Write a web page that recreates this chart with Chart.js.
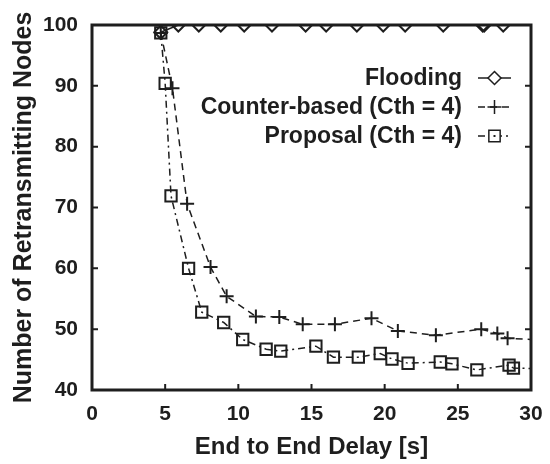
<!DOCTYPE html>
<html>
<head>
<meta charset="utf-8">
<script src="https://cdn.jsdelivr.net/npm/chart.js@4"></script>
<style>
  html, body { margin: 0; padding: 0; background: #fff; }
  #wrap { width: 550px; height: 464px; }
</style>
</head>
<body>
<div id="wrap"><canvas id="delayChart" width="550" height="464"></canvas></div>
<script>
const floodX = [4.7, 5.9, 7.3, 8.8, 10.4, 12.3, 14.6, 16.0, 18.1, 19.9, 21.4, 24.0, 26.7, 26.8, 28.1];
const floodY = [98.8, 100, 100, 100, 100, 100, 100, 100, 100, 100, 100, 100, 100, 100, 100];

const counterX = [4.7, 5.5, 6.5, 8.1, 9.2, 11.2, 12.8, 14.4, 16.6, 19.1, 20.9, 23.5, 26.6, 27.7, 28.4, 31];
const counterY = [98.7, 89.6, 70.6, 60.2, 55.4, 52.1, 52.0, 50.8, 50.8, 51.8, 49.7, 49.0, 50.0, 49.3, 48.5, 48.2];

const proposalX = [4.7, 5.0, 5.4, 6.6, 7.5, 9.0, 10.3, 11.9, 12.9, 15.3, 16.5, 18.2, 19.7, 20.5, 21.6, 23.8, 24.6, 26.3, 28.5, 28.8, 31];
const proposalY = [98.7, 90.4, 71.9, 60.0, 52.8, 51.1, 48.3, 46.7, 46.4, 47.2, 45.4, 45.4, 46.0, 45.1, 44.4, 44.6, 44.3, 43.3, 44.1, 43.6, 43.5];

const xTicks = [0, 5, 10, 15, 20, 25, 30];
const yTicks = [40, 50, 60, 70, 80, 90, 100];

const seriesNames = ["Flooding", "Counter-based (Cth = 4)", "Proposal (Cth = 4)"];

const ink = "#1e1e1e";
const labelFont = "'Liberation Sans', Arial, sans-serif";

function toPoints(xs, ys) {
  return xs.map((x, i) => ({ x: x, y: ys[i] }));
}

// box round the plot with inward ticks
const framePlugin = {
  id: "frame",
  beforeDatasetsDraw(chart) {
    const { ctx, chartArea: a, scales } = chart;
    ctx.save();
    ctx.strokeStyle = ink;
    ctx.lineWidth = 3;
    ctx.strokeRect(a.left, a.top, a.right - a.left, a.bottom - a.top);
    ctx.lineWidth = 2;
    ctx.beginPath();
    xTicks.forEach((v) => {
      const px = scales.x.getPixelForValue(v);
      ctx.moveTo(px, a.bottom);
      ctx.lineTo(px, a.bottom - 6);
    });
    yTicks.forEach((v) => {
      const py = scales.y.getPixelForValue(v);
      ctx.moveTo(a.left, py);
      ctx.lineTo(a.left + 6, py);
      ctx.moveTo(a.right, py);
      ctx.lineTo(a.right - 6, py);
    });
    ctx.stroke();
    ctx.restore();
  },
};

// legend with the text on the left of the line sample
const legendPlugin = {
  id: "sideLegend",
  afterDraw(chart) {
    const { ctx } = chart;
    const textRight = 462;
    const lineStart = 478;
    const lineEnd = 511;
    const baselines = [85, 114, 143];
    ctx.save();
    ctx.font = "bold 23px " + labelFont;
    ctx.textAlign = "right";
    ctx.textBaseline = "alphabetic";
    chart.data.datasets.forEach((ds, i) => {
      const y = baselines[i] - 7;
      ctx.fillStyle = ink;
      ctx.fillText(ds.label, textRight, baselines[i]);
      ctx.strokeStyle = ink;
      ctx.lineWidth = 1.5;
      ctx.setLineDash(ds.borderDash || []);
      ctx.beginPath();
      ctx.moveTo(lineStart, y);
      ctx.lineTo(lineEnd, y);
      ctx.stroke();
      ctx.setLineDash([]);
      ctx.fillStyle = "#fff";
      Chart.helpers.drawPoint(ctx, {
        pointStyle: ds.pointStyle,
        radius: ds.pointRadius,
        borderWidth: ds.pointBorderWidth,
        rotation: 0,
      }, (lineStart + lineEnd) / 2, y);
      if (ds.pointStyle === "rect") {
        ctx.fillStyle = ink;
        ctx.fillRect((lineStart + lineEnd) / 2 - 1, y - 1, 2, 2);
      }
    });
    ctx.restore();
  },
};

const ctx = document.getElementById("delayChart").getContext("2d");

new Chart(ctx, {
  type: "line",
  data: {
    datasets: [
      {
        label: seriesNames[0],
        data: toPoints(floodX, floodY),
        borderColor: ink,
        borderWidth: 1.5,
        pointStyle: "rectRot",
        pointRadius: 6.5,
        pointBorderWidth: 2,
        pointBackgroundColor: "rgba(255,255,255,0)",
        pointBorderColor: ink,
      },
      {
        label: seriesNames[1],
        data: toPoints(counterX, counterY),
        borderColor: ink,
        borderWidth: 1.5,
        borderDash: [7, 5],
        pointStyle: "cross",
        pointRadius: 7,
        pointBorderWidth: 2,
        pointBorderColor: ink,
      },
      {
        label: seriesNames[2],
        data: toPoints(proposalX, proposalY),
        borderColor: ink,
        borderWidth: 1.5,
        borderDash: [7, 4, 2, 4],
        pointStyle: "rect",
        pointRadius: 8,
        pointBorderWidth: 2,
        pointBackgroundColor: "rgba(255,255,255,0)",
        pointBorderColor: ink,
      },
    ],
  },
  options: {
    responsive: false,
    animation: false,
    devicePixelRatio: 1,
    layout: {
      padding: { top: 25, right: 19, left: 0, bottom: 0 },
    },
    scales: {
      x: {
        type: "linear",
        min: 0,
        max: 30,
        afterBuildTicks: (scale) => {
          scale.ticks = xTicks.map((v) => ({ value: v }));
        },
        afterFit: (scale) => {
          scale.height = 74;
          scale.paddingLeft = 0;
          scale.paddingRight = 0;
        },
        grid: { display: false, drawTicks: false },
        border: { display: false },
        ticks: {
          color: ink,
          padding: 12,
          font: { family: labelFont, size: 21, weight: "bold" },
        },
        title: {
          display: true,
          text: "End to End Delay [s]",
          color: ink,
          padding: { top: 0, bottom: 2 },
          font: { family: labelFont, size: 24, weight: "bold" },
        },
      },
      y: {
        type: "linear",
        min: 40,
        max: 100,
        afterBuildTicks: (scale) => {
          scale.ticks = yTicks.map((v) => ({ value: v }));
        },
        afterFit: (scale) => {
          scale.width = 92;
          scale.paddingTop = 0;
          scale.paddingBottom = 0;
        },
        grid: { display: false, drawTicks: false },
        border: { display: false },
        ticks: {
          color: ink,
          padding: 14,
          font: { family: labelFont, size: 21, weight: "bold" },
        },
        title: {
          display: true,
          text: "Number of Retransmitting Nodes",
          color: ink,
          padding: { top: 9, bottom: 0 },
          font: { family: labelFont, size: 25, weight: "bold" },
        },
      },
    },
    plugins: {
      legend: { display: false },
      tooltip: { enabled: false },
    },
  },
  plugins: [framePlugin, legendPlugin],
});
</script>
</body>
</html>
